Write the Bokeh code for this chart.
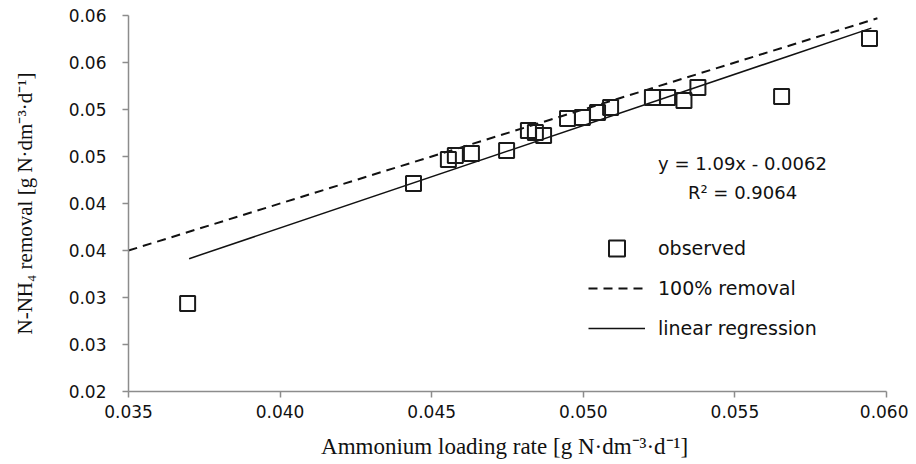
from bokeh.plotting import figure
from bokeh.models import FixedTicker, Legend, LegendItem, Label
from bokeh.embed import file_html
from bokeh.resources import INLINE

# observed data: ammonium loading rate vs N-NH4 removal
loading_rate = [0.03695, 0.0444, 0.04555, 0.04578, 0.04631, 0.04747, 0.04819, 0.04842,
                0.04869, 0.04948, 0.04997, 0.05047, 0.0509, 0.05228, 0.05278, 0.05332,
                0.05378, 0.05654, 0.05944]
removal = [0.02936, 0.04213, 0.04468, 0.04511, 0.04532, 0.04564, 0.04777, 0.04755,
           0.04723, 0.04904, 0.04915, 0.04968, 0.05021, 0.05128, 0.05128, 0.05096,
           0.05234, 0.05138, 0.05755]

# 100 % removal line (y = x)
ideal_x = [0.035, 0.0597]
ideal_y = [0.035, 0.0597]

# linear regression y = 1.09x - 0.0062
slope = 1.09
intercept = -0.0062
fit_x = [0.037, 0.0595]
fit_y = [slope * v + intercept for v in fit_x]

x_ticks = [0.035, 0.040, 0.045, 0.050, 0.055, 0.060]
x_tick_labels = ["0.035", "0.040", "0.045", "0.050", "0.055", "0.060"]
y_ticks = [0.020, 0.025, 0.030, 0.035, 0.040, 0.045, 0.050, 0.055, 0.060]
y_tick_labels = ["0.02", "0.03", "0.03", "0.04", "0.04", "0.05", "0.05", "0.06", "0.06"]

eq_text = "y = 1.09x - 0.0062"
r2_text = "R\u00b2 = 0.9064"

p = figure(width=908, height=464, x_range=(0.035, 0.060), y_range=(0.020, 0.060),
           output_backend="svg", toolbar_location=None,
           min_border_left=128, min_border_top=15, min_border_right=22, min_border_bottom=73)
p.outline_line_color = None
p.xgrid.grid_line_color = None
p.ygrid.grid_line_color = None
p.background_fill_color = "white"

axis_col = "#8c8c8c"
for ax in (p.xaxis[0], p.yaxis[0]):
    ax.axis_line_color = axis_col
    ax.axis_line_width = 1.5
    ax.major_tick_line_color = axis_col
    ax.major_tick_line_width = 1.5
    ax.major_tick_out = 6
    ax.major_tick_in = 0
    ax.minor_tick_line_color = None
    ax.major_label_text_font = "DejaVu Sans"
    ax.major_label_text_font_size = "17px"
    ax.major_label_text_color = "#111111"
    ax.axis_label_text_font = "Liberation Serif"
    ax.axis_label_text_font_style = "normal"
    ax.axis_label_text_color = "#111111"

p.xaxis.ticker = FixedTicker(ticks=x_ticks)
p.xaxis.major_label_overrides = dict(zip(x_ticks, x_tick_labels))
p.yaxis.ticker = FixedTicker(ticks=y_ticks)
p.yaxis.major_label_overrides = dict(zip(y_ticks, y_tick_labels))
p.xaxis.major_label_standoff = 7
p.yaxis.major_label_standoff = 16
p.xaxis.axis_label = "Ammonium loading  rate [g N\u00b7dm\u207b\u00b3\u00b7d\u207b\u00b9]"
p.yaxis.axis_label = "N-NH\u2084 removal [g N\u00b7dm\u207b\u00b3\u00b7d\u207b\u00b9]"
p.xaxis.axis_label_text_font_size = "23px"
p.yaxis.axis_label_text_font_size = "21px"
p.xaxis.axis_label_standoff = 13
p.yaxis.axis_label_standoff = 29

r_ideal = p.line(ideal_x, ideal_y, line_color="#111111", line_width=2, line_dash="9 6")
r_fit = p.line(fit_x, fit_y, line_color="#111111", line_width=1.5)
r_obs = p.scatter(loading_rate, removal, marker="square", size=15,
                  fill_alpha=0, line_color="#1a1a1a", line_width=2)

legend = Legend(items=[LegendItem(label="observed", renderers=[r_obs]),
                       LegendItem(label="100% removal", renderers=[r_ideal]),
                       LegendItem(label="linear regression", renderers=[r_fit])],
                location=(460, 43), orientation="vertical",
                glyph_width=57, glyph_height=40, label_height=20, spacing=0,
                label_standoff=13, padding=0, margin=0,
                border_line_color=None, background_fill_alpha=0,
                label_text_font="DejaVu Sans", label_text_font_size="19px",
                label_text_color="#111111")
p.add_layout(legend)

p.add_layout(Label(x=614, y=228, x_units="screen", y_units="screen", text=eq_text,
                   text_align="center", text_baseline="middle",
                   text_font="DejaVu Sans", text_font_size="18px", text_color="#111111"))
p.add_layout(Label(x=614, y=199, x_units="screen", y_units="screen", text=r2_text,
                   text_align="center", text_baseline="middle",
                   text_font="DejaVu Sans", text_font_size="18px", text_color="#111111"))

open("out.html", "w").write(file_html(p, INLINE))
